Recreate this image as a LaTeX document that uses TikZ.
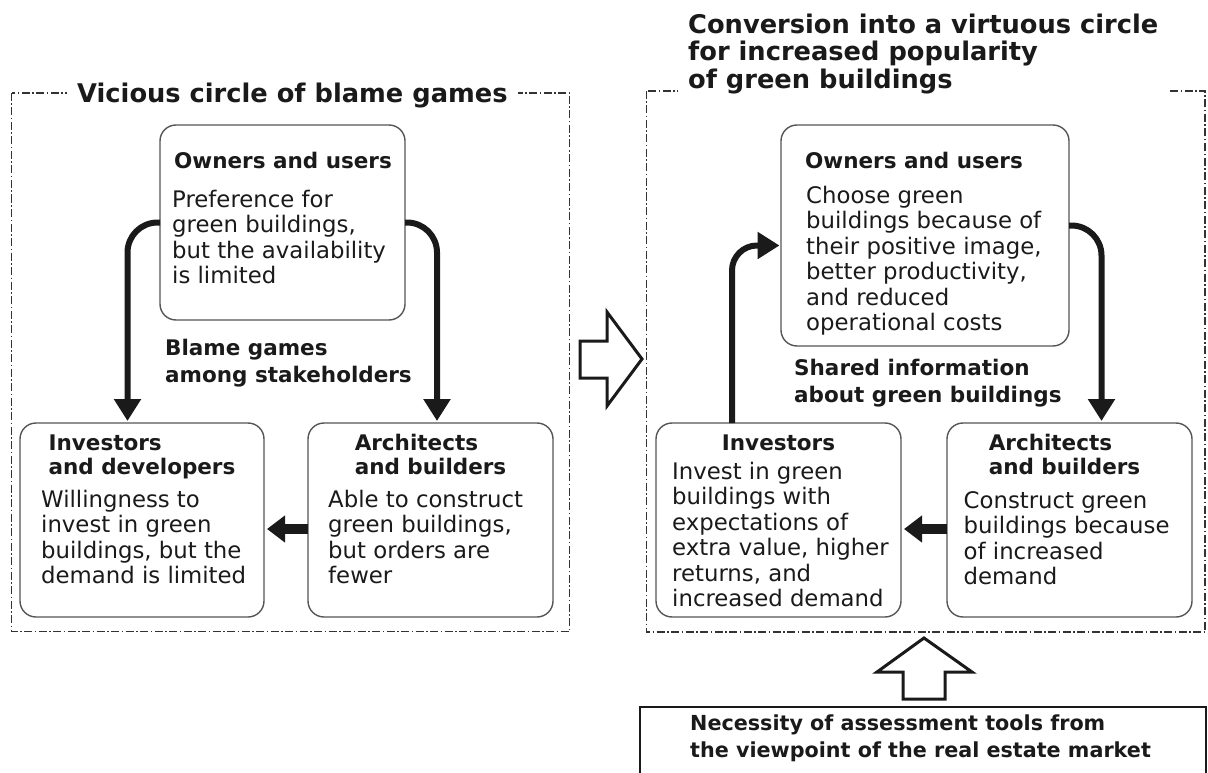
\documentclass[tikz,border=0pt]{standalone}
\usepackage{fontspec}
\setmainfont{DejaVu Sans}
\usepackage{xcolor}
\definecolor{cInk}{HTML}{1A1A1A}
\definecolor{cLine}{HTML}{555555}
\definecolor{cFrame}{HTML}{333333}
\usetikzlibrary{positioning,arrows.meta}
\tikzset{
  card/.style={draw=cLine,line width=1.4pt,rounded corners=16pt,
    anchor=north west,inner sep=0pt,outer sep=0pt},
  card-head/.style={font=\bfseries\fontsize{21.5pt}{24pt}\selectfont,
    text=cInk,inner sep=0pt,align=left},
  card-body/.style={font=\fontsize{22.8pt}{25.5pt}\selectfont,
    text=cInk,inner sep=0pt,align=left},
  note/.style={font=\bfseries\fontsize{21.5pt}{27.5pt}\selectfont,
    text=cInk,inner sep=0pt,align=left},
  frame-box/.style={draw=cFrame,line width=1.4pt,
    dash pattern=on 8pt off 2.5pt on 1.5pt off 2.5pt},
  frame-title/.style={font=\bfseries\fontsize{25.7pt}{27.5pt}\selectfont,
    text=cInk,fill=white,inner xsep=10pt,inner ysep=3pt,align=left},
  flow/.style={-{Triangle[length=22pt,width=26pt]},line width=6pt,
    draw=cInk,rounded corners=30pt},
  push/.style={-{Triangle[length=18pt,width=26pt]},line width=10pt,
    draw=cInk,shorten >=3pt},
  block-arrow/.style={draw=cInk,line width=3pt,fill=white,line join=miter},
}
\begin{document}
\begin{tikzpicture}[x=1pt,y=-1pt]
  \useasboundingbox (0,0) rectangle (1208,773);
  % dashed frames with their titles
  \draw[frame-box] (11.5,93) rectangle (569.5,631.5);
  \draw[frame-box] (646.5,91) rectangle (1205,632);
  \node[frame-title,anchor=base west] (titleL) at (67,103) {Vicious circle of blame games};
  \node[frame-title,anchor=north west] (titleR) at (678,10.5)
    {Conversion into a virtuous circle\\for increased popularity\\of green buildings};

  % vicious circle
  \node[card,minimum width=245pt,minimum height=195pt] (ownL) at (160,125) {};
  \node[card-head,below right=26.7pt and 14pt of ownL.north west] (ownL-hd) {Owners and users};
  \node[card-body,below right=64.9pt and 12pt of ownL.north west] (ownL-txt)
    {Preference for\\green buildings,\\but the availability\\is limited};
  \node[card,minimum width=244pt,minimum height=194pt] (invL) at (20,423) {};
  \node[card-head,below=11.3pt of invL.north] (invL-hd) {Investors\\and developers};
  \node[card-body,below right=66.9pt and 21pt of invL.north west] (invL-txt)
    {Willingness to\\invest in green\\buildings, but the\\demand is limited};
  \node[card,minimum width=245pt,minimum height=194pt] (arcL) at (308,423) {};
  \node[card-head,below=10.7pt of arcL.north] (arcL-hd) {Architects\\and builders};
  \node[card-body,below right=66.9pt and 20pt of arcL.north west] (arcL-txt)
    {Able to construct\\green buildings,\\but orders are\\fewer};
  \node[note,below right=18.7pt and 5pt of ownL.south west] (blame)
    {Blame games\\among stakeholders};

  \draw[flow,shorten >=2pt] (ownL.west) -| ([xshift=-14.5pt]invL.north);
  \draw[flow,shorten >=2pt] (ownL.east) -| ([xshift=6.5pt]arcL.north);
  \draw[push] ([yshift=-9pt]arcL.west) -- ([yshift=-9pt]invL.east);

  % conversion arrow
  \draw[block-arrow] (580,341) -- (607,341) -- (607,312) -- (642,359)
    -- (607,406) -- (607,378) -- (580,378) -- cycle;

  % virtuous circle
  \node[card,minimum width=288pt,minimum height=221pt] (ownR) at (781,125) {};
  \node[card-head,below right=26.7pt and 24pt of ownR.north west] (ownR-hd) {Owners and users};
  \node[card-body,below right=60.9pt and 25pt of ownR.north west] (ownR-txt)
    {Choose green\\buildings because of\\their positive image,\\better productivity,\\and reduced\\operational costs};
  \node[card,minimum width=245pt,minimum height=194pt] (invR) at (656,423) {};
  \node[card-head,below=11.3pt of invR.north] (invR-hd) {Investors};
  \node[card-body,below right=38.9pt and 16pt of invR.north west] (invR-txt)
    {Invest in green\\buildings with\\expectations of\\extra value, higher\\returns, and\\increased demand};
  \node[card,minimum width=245pt,minimum height=194pt] (arcR) at (947,423) {};
  \node[card-head,below=10.7pt of arcR.north,xshift=-5pt] (arcR-hd) {Architects\\and builders};
  \node[card-body,below right=67.9pt and 16.5pt of arcR.north west] (arcR-txt)
    {Construct green\\buildings because\\of increased\\demand};
  \node[note,below right=12.7pt and 13pt of ownR.south west] (shared)
    {Shared information\\about green buildings};

  \draw[flow,rounded corners=25pt,shorten >=1.5pt] ([xshift=-46.5pt]invR.north) |- ([yshift=-10pt]ownR.west);
  \draw[flow,shorten >=2pt] ([yshift=10pt]ownR.east) -| ([xshift=32pt]arcR.north);
  \draw[push] ([yshift=-9pt]arcR.west) -- ([yshift=-9pt]invR.east);

  % assessment tools
  \node[anchor=north west,draw=cInk,line width=1.3pt,minimum width=566pt,
    minimum height=100pt,inner sep=0pt,outer sep=0pt] (assess) at (640,707) {};
  \node[note,font=\bfseries\fontsize{20.7pt}{27pt}\selectfont,
    below right=7.3pt and 50pt of assess.north west] (assess-txt)
    {Necessity of assessment tools from\\the viewpoint of the real estate market};
  \draw[block-arrow] (903,699) -- (903,672) -- (877,672) -- (924,638)
    -- (972,672) -- (945,672) -- (945,699) -- cycle;
\end{tikzpicture}
\end{document}
